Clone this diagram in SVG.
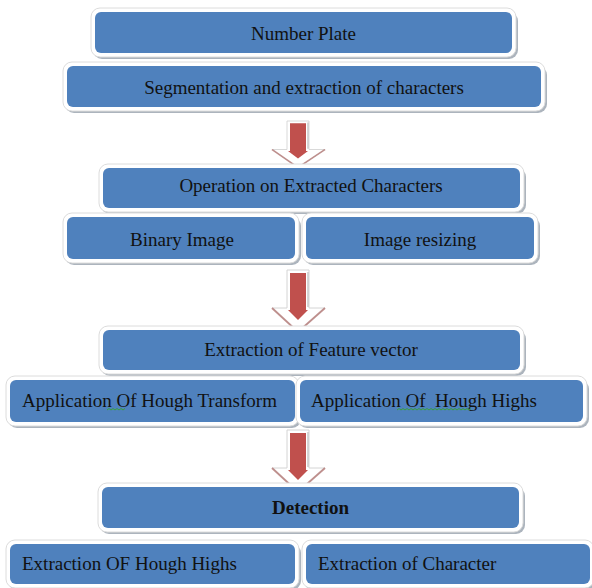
<svg xmlns="http://www.w3.org/2000/svg" xmlns:xlink="http://www.w3.org/1999/xlink" width="592" height="588" viewBox="0 0 592 588">
<style>
.shadow{fill:#9ea7b2;opacity:.85}
.frame{fill:#ffffff;stroke:#dcdcdc;stroke-width:1}
.fill{fill:#4f81bd}
.lbl{font-family:"Liberation Serif","Times New Roman",serif;font-size:19px;fill:#111111}
.c{text-anchor:middle}
.b{font-weight:bold}
.sq{fill:none;stroke:#3aa03a;stroke-width:1}
</style>
<defs>
<g id="arrow">
<path d="M-11,0 H11 V38 H27 L0,62 L-26,38 H-11 Z" fill="#ffffff" stroke="#d4d4d4" stroke-width="1"/>
<path d="M-26,38 L0,62 L27,38" fill="none" stroke="#b47a78" stroke-width="2" opacity="0.8"/>
<line x1="10" y1="2" x2="10" y2="37" stroke="#c8c8c8" stroke-width="1.5"/>
<rect x="-8" y="3" width="16" height="38" fill="#c0504d"/>
<polygon points="-10,40 10,40 0,50" fill="#c0504d"/>
</g>
</defs>
<rect width="592" height="588" fill="#ffffff"/>
<g id="connectors">
<use xlink:href="#arrow" href="#arrow" transform="translate(298,121) scale(1,0.75)"/>
<use xlink:href="#arrow" href="#arrow" transform="translate(298,270)"/>
<use xlink:href="#arrow" href="#arrow" transform="translate(298,430)"/>
</g>
<g id="n1">
<rect class="shadow" x="93" y="12" width="425" height="47" rx="9"/>
<rect class="frame" x="91" y="8" width="425" height="49" rx="9"/>
<rect class="fill" x="95" y="12" width="417" height="41" rx="6"/>
<text class="lbl c" x="303.5" y="40">Number Plate</text>
</g>
<g id="n2">
<rect class="shadow" x="65" y="66" width="482" height="47" rx="9"/>
<rect class="frame" x="63" y="62" width="482" height="49" rx="9"/>
<rect class="fill" x="67" y="66" width="474" height="41" rx="6"/>
<text class="lbl c" x="304" y="94">Segmentation and extraction of characters</text>
</g>
<g id="n3">
<rect class="shadow" x="101" y="168" width="425" height="46" rx="9"/>
<rect class="frame" x="99" y="164" width="425" height="48" rx="9"/>
<rect class="fill" x="103" y="168" width="417" height="40" rx="6"/>
<text class="lbl c" x="311" y="192">Operation on Extracted Characters</text>
</g>
<g id="n4">
<rect class="shadow" x="65" y="217" width="236" height="48" rx="9"/>
<rect class="frame" x="63" y="213" width="236" height="50" rx="9"/>
<rect class="fill" x="67" y="217" width="228" height="42" rx="6"/>
<text class="lbl c" x="182" y="246">Binary Image</text>
</g>
<g id="n5">
<rect class="shadow" x="304" y="217" width="236" height="48" rx="9"/>
<rect class="frame" x="302" y="213" width="236" height="50" rx="9"/>
<rect class="fill" x="306" y="217" width="228" height="42" rx="6"/>
<text class="lbl c" x="420" y="246">Image resizing</text>
</g>
<g id="n6">
<rect class="shadow" x="101" y="330" width="425" height="46" rx="9"/>
<rect class="frame" x="99" y="326" width="425" height="48" rx="9"/>
<rect class="fill" x="103" y="330" width="417" height="40" rx="6"/>
<text class="lbl c" x="311" y="356">Extraction of Feature vector</text>
</g>
<g id="n7">
<rect class="shadow" x="8" y="380" width="293" height="48" rx="9"/>
<rect class="frame" x="6" y="376" width="293" height="50" rx="9"/>
<rect class="fill" x="10" y="380" width="285" height="42" rx="6"/>
<text class="lbl" x="22" y="407">Application Of Hough Transform</text>
<path class="sq" d="M107,410 l2,-1.5 l2,1.5 l2,-1.5 l2,1.5 l2,-1.5 l2,1.5 l2,-1.5 l2,1.5 l2,-1.5"/>
</g>
<g id="n8">
<rect class="shadow" x="298" y="380" width="291" height="48" rx="9"/>
<rect class="frame" x="296" y="376" width="291" height="50" rx="9"/>
<rect class="fill" x="300" y="380" width="283" height="42" rx="6"/>
<text class="lbl" x="311" y="407" xml:space="preserve">Application Of  Hough Highs</text>
<path class="sq" d="M397,410 l2,-1.5 l2,1.5 l2,-1.5 l2,1.5 l2,-1.5 l2,1.5 l2,-1.5 l2,1.5 l2,-1.5 l2,1.5 l2,-1.5 l2,1.5 l2,-1.5 l2,1.5 l2,-1.5 l2,1.5 l2,-1.5 l2,1.5 l2,-1.5 l2,1.5 l2,-1.5 l2,1.5 l2,-1.5 l2,1.5 l2,-1.5 l2,1.5 l2,-1.5 l2,1.5 l2,-1.5 l2,1.5 l2,-1.5 l2,1.5 l2,-1.5 l2,1.5 l2,-1.5 l2,1.5 l2,-1.5"/>
</g>
<g id="n9">
<rect class="shadow" x="100" y="487" width="425" height="47" rx="9"/>
<rect class="frame" x="98" y="483" width="425" height="49" rx="9"/>
<rect class="fill" x="102" y="487" width="417" height="41" rx="6"/>
<text class="lbl c b" x="310.5" y="514">Detection</text>
</g>
<g id="n10">
<rect class="shadow" x="8" y="544" width="293" height="46" rx="9"/>
<rect class="frame" x="6" y="540" width="293" height="48" rx="9"/>
<rect class="fill" x="10" y="544" width="285" height="40" rx="6"/>
<text class="lbl" x="22" y="570">Extraction OF Hough Highs</text>
</g>
<g id="n11">
<rect class="shadow" x="304" y="544" width="292" height="46" rx="9"/>
<rect class="frame" x="302" y="540" width="292" height="48" rx="9"/>
<rect class="fill" x="306" y="544" width="284" height="40" rx="6"/>
<text class="lbl" x="318" y="570">Extraction of Character</text>
</g>
</svg>
